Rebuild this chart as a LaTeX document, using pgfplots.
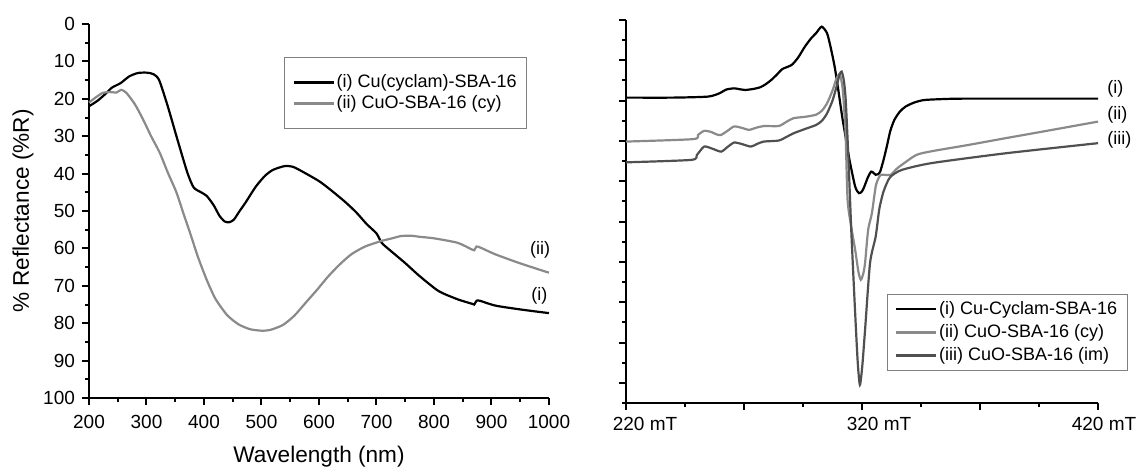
\documentclass[border=0pt]{standalone}
\usepackage{fontspec}
\setmainfont{Liberation Sans}
\usepackage{pgfplots}
\pgfplotsset{compat=1.18}

\definecolor{lgray}{HTML}{8A8A8A}
\definecolor{dgray}{HTML}{505050}

\pgfplotsset{
  myax/.style={
    scale only axis,
    axis x line*=bottom, axis y line*=left,
    axis line style={-, line width=1.4pt},
    tick style={black, line width=1pt},
    major tick length=3.5pt, minor tick length=2pt,
    tick align=outside,
    tick label style={font=\fontsize{9.5}{10}\selectfont},
    /pgf/number format/assume math mode=true,
    /pgf/number format/1000 sep={},
    label style={font=\fontsize{11.3}{12}\selectfont},
    legend cell align=left,
    legend image code/.code={\draw[##1] (0pt,0pt) -- (20pt,0pt);},
    clip=false,
  },
  curve/.style={line width=1.1pt, smooth, tension=0.4},
}

\begin{document}
\begin{tikzpicture}
\path[use as bounding box] (0,0) rectangle (571pt,234pt);

% left: diffuse reflectance
\begin{axis}[myax,
  at={(44.5pt,35pt)}, anchor=south west,
  width=230pt, height=187pt,
  xmin=200, xmax=1000, ymin=0, ymax=100, y dir=reverse,
  xtick={200,300,...,1000}, minor xtick={250,350,...,950},
  ytick={0,10,...,100}, minor ytick={5,15,...,95},
  xticklabel style={yshift=-1.5pt},
  xlabel={Wavelength (nm)}, ylabel={\% Reflectance (\%R)},
  xlabel style={yshift=-2pt}, ylabel style={yshift=-2pt},
  legend style={at={(0.424,0.912)}, anchor=north west, draw=gray,
    line width=0.5pt, font=\fontsize{9}{10}\selectfont,
    inner xsep=4pt, inner ysep=8pt, row sep=1.5pt,
    nodes={inner xsep=1pt, inner ysep=0.5pt}},
]
\addplot[curve, black] coordinates {
(200,22) (215,20.5) (230,18.5) (240,17) (255,15.8) (270,14) (285,13.1)
(300,13) (312,13.4) (322,15) (337,22) (354,31) (371,39.7) (382,43.7)
(395,45) (405,46) (417,48.5) (427,51.3) (436,52.8) (444,53) (452,52.3)
(462,50) (472,47.8) (490,43.5) (506,40.6) (520,39) (540,38) (555,38.2)
(574,39.7) (600,42) (619,44.2) (645,47.5) (665,50.4) (683,53.5) (700,56)
(709,58.5) (722,60.3) (749,63.8) (775,67.4) (808,71.4) (841,73.6)
(866,74.8) (870,75) (874,74) (880,74) (907,75.3) (954,76.4) (1000,77.3)
};
\addplot[curve, lgray] coordinates {
(200,21) (212,19.6) (224,18.4) (236,18.2) (248,18.3) (256,17.6) (265,18.4)
(280,21.5) (294,25.5) (308,30) (323,34.4) (337,39.7) (352,45) (365,51)
(375,55.5) (390,62.5) (405,68.5) (420,73.5) (440,77.8) (460,80.3) (480,81.6)
(500,82) (515,81.8) (537,80.5) (557,78) (577,74.5) (597,71) (616.5,67.4)
(636,64.3) (656,61.6) (680,59.5) (709,58) (730,57.2) (742,56.7) (760,56.6)
(775,56.9) (800,57.3) (841,58.5) (866,60.3) (870,60.5) (874,59.5)
(881,59.8) (907,61.6) (950,64) (1000,66.5)
};
\legend{(i) Cu(cyclam)-SBA-16, (ii) CuO-SBA-16 (cy)}
\node[anchor=west, font=\fontsize{9}{10}\selectfont] at (axis cs:955,60.5) {(ii)};
\node[anchor=west, font=\fontsize{9}{10}\selectfont] at (axis cs:957,72.7) {(i)};
\end{axis}

% right: EPR spectra
\begin{axis}[myax,
  at={(313pt,32.5pt)}, anchor=south west,
  width=236pt, height=191.5pt,
  xmin=220, xmax=420, ymin=-1, ymax=18,
  xtick={220,270,...,420},
  xticklabels={\hspace*{19pt}220 mT,,\hspace*{17pt}320 mT,,\hspace*{6pt}420 mT},
  minor xtick={245,295,345,395},
  ytick={0,2,...,18}, minor ytick={-1,1,...,17}, yticklabels={},
  legend style={at={(0.552,0.285)}, anchor=north west, draw=gray,
    line width=0.5pt, font=\fontsize{9}{10}\selectfont,
    inner xsep=4pt, inner ysep=3pt, row sep=2.5pt,
    nodes={inner xsep=1pt, inner ysep=0.5pt}},
]
\addplot[curve, black] coordinates {
(220,14.15) (240,14.15) (254.7,14.2) (259.5,14.36) (262.5,14.55) (265.8,14.61)
(268,14.57) (270.5,14.53) (274,14.58) (276.8,14.66) (279,14.8) (281.6,15.03)
(284,15.3) (286.3,15.57) (290.2,15.77) (293,16.15) (295.8,16.68) (298.5,17.1)
(300.5,17.34) (302.9,17.67) (305.2,17.34) (306.8,16.6) (308.4,15.69)
(310,14.5) (311.6,13.21) (313.2,12.1) (314.7,11.06) (317.1,9.74) (318.7,9.41)
(320,9.5) (321,9.74) (322.5,10.2) (323.9,10.48) (325,10.4) (325.8,10.32)
(326.8,10.35) (327.7,10.48) (329,11.0) (330.5,11.72) (332,12.5) (333.7,13.04)
(336,13.45) (338.4,13.7) (342,13.9) (346.3,14.03) (355,14.08) (365,14.1)
(420,14.1)
};
\addplot[curve, lgray] coordinates {
(220,11.97) (248.4,12.09) (250.5,12.3) (253.1,12.5) (256,12.45) (258.5,12.32)
(260.3,12.3) (263,12.5) (265.8,12.72) (269,12.65) (272.1,12.55) (275,12.65)
(278.4,12.74) (284.7,12.74) (288,12.95) (291,13.13) (296,13.2) (300.5,13.3)
(303,13.5) (305.2,13.87) (307.5,14.5) (309.2,15.1) (310.6,15.3) (311.8,14.6)
(313,12.5) (313.9,9.07) (315.5,7.7) (317.1,6.6) (318.5,5.5) (319.5,5.11)
(320.5,5.4) (321.3,5.94) (322.6,7.59) (324.2,8.42) (325.8,9.74) (327,10.15)
(328.1,10.32) (332.1,10.32) (334.5,10.6) (336.8,10.81) (343.1,11.31)
(350,11.5) (365,11.8) (380,12.12) (396.8,12.47) (420,12.96)
};
\addplot[curve, dgray] coordinates {
(220,10.94) (247.6,11.06) (250,11.3) (253.1,11.72) (256.5,11.62) (260.3,11.47)
(263,11.7) (265.8,11.92) (269,11.85) (272.9,11.72) (275.5,11.85) (278.4,11.97)
(284.7,12.02) (288,12.2) (291,12.38) (296,12.6) (300.5,12.79) (303,13.0)
(305.2,13.37) (307.5,14.0) (309.2,14.69) (310.5,15.3) (311.4,15.44)
(312.3,15.0) (313.1,14.03) (314.3,11.0) (315.5,7.44) (317.1,3.46) (318.2,1.0)
(319.1,-0.1) (320.1,0.8) (321.3,2.63) (323.4,5.94) (325.8,7.26) (327.3,8.6)
(328.9,9.41) (330.5,9.9) (332.1,10.23) (336.8,10.56) (349.4,10.9) (381,11.39)
(420,11.89)
};
\legend{(i) Cu-Cyclam-SBA-16, (ii) CuO-SBA-16 (cy), (iii) CuO-SBA-16 (im)}
\node[anchor=west, font=\fontsize{9}{10}\selectfont] at (axis cs:421,14.6) {(i)};
\node[anchor=west, font=\fontsize{9}{10}\selectfont] at (axis cs:421,13.3) {(ii)};
\node[anchor=west, font=\fontsize{9}{10}\selectfont] at (axis cs:421,12.05) {(iii)};
\end{axis}
\end{tikzpicture}
\end{document}
